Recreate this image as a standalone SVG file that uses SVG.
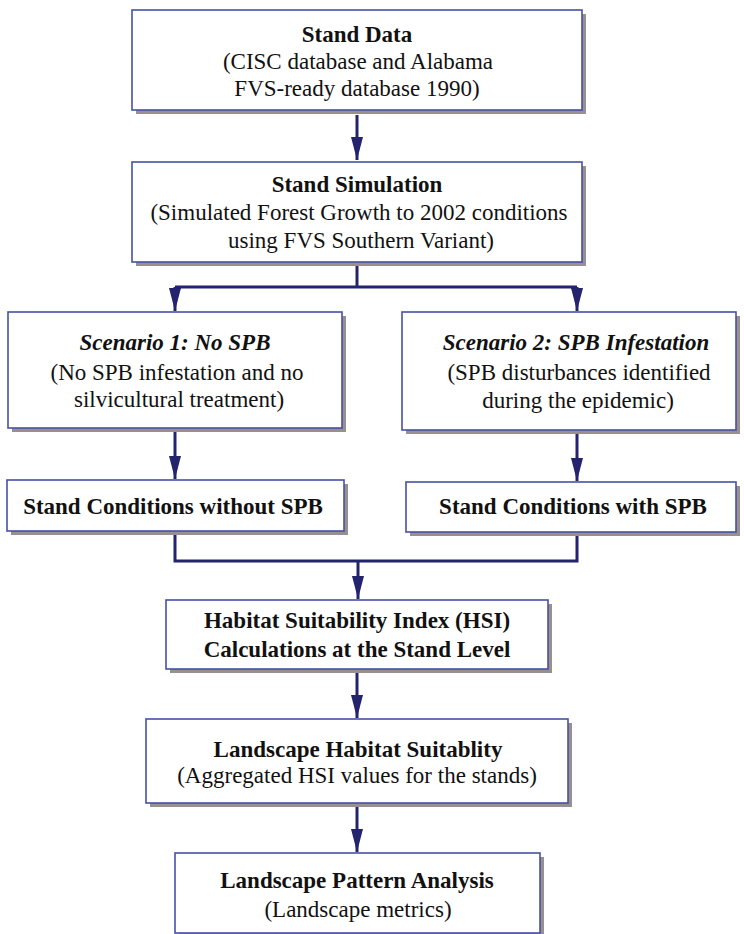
<svg xmlns="http://www.w3.org/2000/svg" width="744" height="934" viewBox="0 0 744 934">
<defs>
<marker id="ah" markerUnits="userSpaceOnUse" markerWidth="23" markerHeight="12" refX="23" refY="6" orient="auto">
<path d="M0,0 L23,6 L0,12 z" fill="#23236e"/>
</marker>
</defs>
<style>
.box{fill:#ffffff;stroke:#4651a6;stroke-width:1.6}
.sh{fill:#9a8f8f}
.t{font-family:"Liberation Serif","Times New Roman",serif;font-size:23px;fill:#111;text-anchor:middle}
.b{font-weight:bold}
.i{font-style:italic;font-weight:bold}
.c{fill:none;stroke:#23236e;stroke-width:3}
</style>
<rect width="744" height="934" fill="#ffffff"/>
<g id="connectors">
<path class="c" d="M357,115 V160" marker-end="url(#ah)"/>
<path class="c" d="M357,266 V287 M175,287 H577"/>
<path class="c" d="M175,287 V311" marker-end="url(#ah)"/>
<path class="c" d="M577,287 V311" marker-end="url(#ah)"/>
<path class="c" d="M175,432 V479" marker-end="url(#ah)"/>
<path class="c" d="M577,434 V481" marker-end="url(#ah)"/>
<path class="c" d="M175,535 V561 H577 V536"/>
<path class="c" d="M358,561 V599" marker-end="url(#ah)"/>
<path class="c" d="M357,673 V718" marker-end="url(#ah)"/>
<path class="c" d="M357,807 V852" marker-end="url(#ah)"/>
</g>
<g id="stand-data">
<rect class="sh" x="136" y="14" width="450" height="100"/>
<rect class="box" x="132" y="10" width="450" height="100"/>
<text class="t b" x="357" y="42">Stand Data</text>
<text class="t" x="358" y="69">(CISC database and Alabama</text>
<text class="t" x="357" y="96">FVS-ready database 1990)</text>
</g>
<g id="stand-simulation">
<rect class="sh" x="136" y="166" width="450" height="100"/>
<rect class="box" x="132" y="162" width="450" height="100"/>
<text class="t b" x="357" y="192">Stand Simulation</text>
<text class="t" x="359" y="220">(Simulated Forest Growth to 2002 conditions</text>
<text class="t" x="361" y="248">using FVS Southern Variant)</text>
</g>
<g id="scenario-1">
<rect class="sh" x="12" y="316" width="334" height="116"/>
<rect class="box" x="8" y="312" width="334" height="116"/>
<text class="t i" x="175" y="350">Scenario 1: No SPB</text>
<text class="t" x="177" y="380">(No SPB infestation and no</text>
<text class="t" x="179" y="407">silvicultural treatment)</text>
</g>
<g id="scenario-2">
<rect class="sh" x="406" y="316" width="334" height="118"/>
<rect class="box" x="402" y="312" width="334" height="118"/>
<text class="t i" x="576" y="350">Scenario 2: SPB Infestation</text>
<text class="t" x="579" y="380">(SPB disturbances identified</text>
<text class="t" x="578" y="408">during the epidemic)</text>
</g>
<g id="conditions-without">
<rect class="sh" x="11" y="484" width="337" height="51"/>
<rect class="box" x="7" y="480" width="337" height="51"/>
<text class="t b" x="173" y="514">Stand Conditions without SPB</text>
</g>
<g id="conditions-with">
<rect class="sh" x="410" y="486" width="330" height="50"/>
<rect class="box" x="406" y="482" width="330" height="50"/>
<text class="t b" x="573" y="514">Stand Conditions with SPB</text>
</g>
<g id="hsi">
<rect class="sh" x="170" y="604" width="382" height="69"/>
<rect class="box" x="166" y="600" width="382" height="69"/>
<text class="t b" x="357" y="628">Habitat Suitability Index (HSI)</text>
<text class="t b" x="357" y="657">Calculations at the Stand Level</text>
</g>
<g id="landscape-habitat">
<rect class="sh" x="150" y="723" width="422" height="84"/>
<rect class="box" x="146" y="719" width="422" height="84"/>
<text class="t b" x="358" y="757">Landscape Habitat Suitablity</text>
<text class="t" x="357" y="783">(Aggregated HSI values for the stands)</text>
</g>
<g id="landscape-pattern">
<rect class="sh" x="179" y="857" width="365" height="80"/>
<rect class="box" x="175" y="853" width="365" height="80"/>
<text class="t b" x="357" y="888">Landscape Pattern Analysis</text>
<text class="t" x="358" y="917">(Landscape metrics)</text>
</g>
</svg>
